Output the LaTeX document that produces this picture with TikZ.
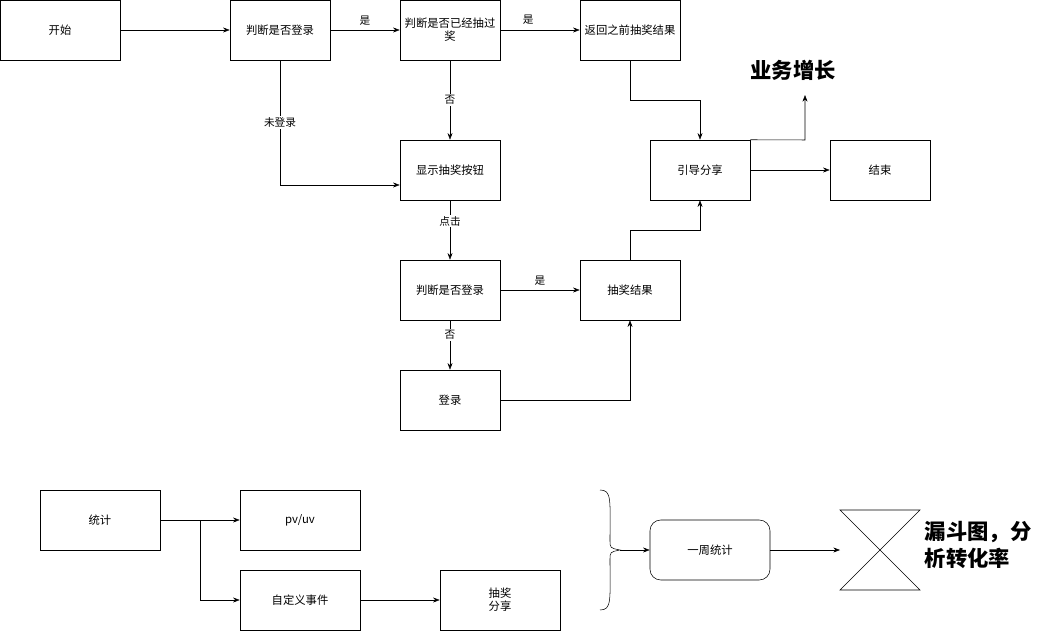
\documentclass[tikz,border=0pt]{standalone}
\usepackage{fontspec}
\setmainfont{Noto Sans CJK SC}
\usetikzlibrary{arrows.meta}

\tikzset{
  box/.style={draw, minimum width=75pt, minimum height=45pt, inner sep=1pt, font=\fontsize{8.5}{10}\selectfont, align=center},
  wbox/.style={box, minimum width=90pt},
  flow/.style={-{Stealth[length=5pt]}},
  lbl/.style={font=\fontsize{8}{9}\selectfont, fill=white, inner sep=1pt}
}

\begin{document}
\begin{tikzpicture}[x=0.75pt,y=-0.75pt]
            \useasboundingbox (0,0) rectangle (1051,631);
            % Define boxes
            \node[wbox] (start) at (60,30) {开始};
            \node[box] (login1) at (280,30) {判断是否登录};
            \node[box] (drawn) at (450,30) {判断是否已经抽过\\奖};
            \node[box] (prev) at (630,30) {返回之前抽奖结果};
            \node[box] (show) at (450,170) {显示抽奖按钮};
            \node[box] (share) at (700,170) {引导分享};
            \node[box] (end) at (880,170) {结束};
            \node[box] (login2) at (450,290) {判断是否登录};
            \node[box] (result) at (630,290) {抽奖结果};
            \node[box] (login) at (450,400) {登录};
            \node[font=\fontsize{16}{18}\selectfont\bfseries] (growth) at (793,70) {业务增长};
            \coordinate (up) at (805,95);
            % Draw edges
            \draw[flow] (start) -- (login1);
            \draw[flow] (login1) -- node[lbl, above=2pt] {是} (drawn);
            \draw[flow] (drawn) -- node[lbl, pos=0.35, above=3pt] {是} (prev);
            \draw[flow] (drawn) -- node[lbl] {否} (show);
            \draw[flow] (login1) -- node[lbl, pos=0.5] {未登录} (280,185) -- (show.west |- 0,185);
            \draw[flow] (show) -- node[lbl, pos=0.35] {点击} (login2);
            \draw[flow] (login2) -- node[lbl, above=2pt] {是} (result);
            \draw[flow] (login2) -- node[lbl, pos=0.3] {否} (login);
            \draw[flow] (login) -| (result);
            \draw[flow] (result.north) |- (700,230) -- (share.south);
            \draw[flow] (prev.south) |- (700,100) -- (share.north);
            \draw[flow] (share) -- (end);
            \draw[flow] (share.north east) -- (805,140) -- (up);
            % Statistics part
            \node[wbox] (stat) at (100,520) {统计};
            \node[wbox] (pv) at (300,520) {pv/uv};
            \node[wbox] (event) at (300,600) {自定义事件};
            \node[wbox] (lottery) at (500,600) {抽奖\\分享};
            \node[wbox, rounded corners=8pt] (week) at (710,550) {一周统计};
            \coordinate (brace) at (620,550);
            \draw (600,490) .. controls (612,490) and (610,500) .. (610,540) .. controls (610,548) .. (620,550)
                  .. controls (610,552) .. (610,560) .. controls (610,600) and (612,610) .. (600,610);
            \draw (840,510) -- (920,510) -- (840,590) -- (920,590) -- cycle;
            \coordinate (funnel) at (840,550);
            \node[font=\fontsize{16}{20}\selectfont\bfseries, align=left, anchor=west] (conv) at (920,545) {漏斗图，分\\析转化率};
            \draw[flow] (stat) -- (pv);
            \draw[flow] (200,520) |- (event);
            \draw[flow] (event) -- (lottery);
            \draw[flow] (brace) -- (week);
            \draw[flow] (week) -- (funnel);
        \end{tikzpicture}
\end{document}
